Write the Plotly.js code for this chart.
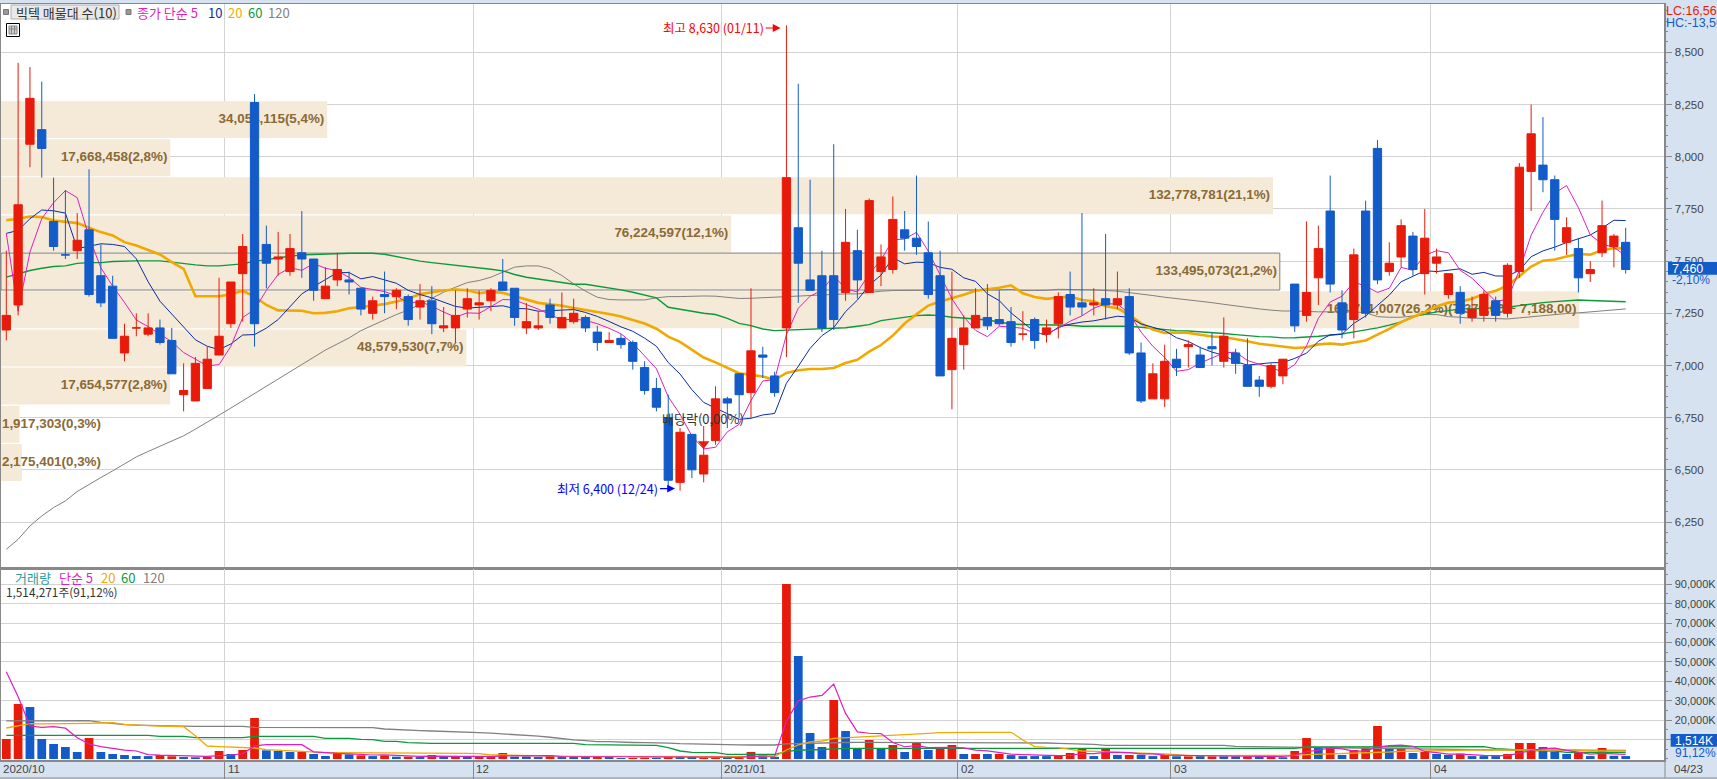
<!DOCTYPE html>
<html><head><meta charset="utf-8">
<script src="https://cdn.plot.ly/plotly-3.0.1.min.js"></script>
<style>html,body{margin:0;padding:0;background:#fff}#c{width:1717px;height:779px}</style>
</head><body><div id="c"></div>
<script>
const open_=[7170,7290,8060,8130,7690,7530,7550,7650,7430,7380,
7060,7180,7150,7180,7120,6860,6830,6890,7050,7200,
7440,8260,7580,7510,7450,7540,7510,7320,7410,7410,
7370,7250,7340,7330,7330,7280,7310,7180,7180,7270,
7290,7310,7400,7370,7180,7180,7290,7180,7210,7230,
7160,7110,7130,7110,6990,6890,6750,6440,6670,6480,
6640,6840,6960,6870,7050,6950,7180,7660,7410,7430,
7430,7350,7550,7350,7450,7460,7650,7610,7540,7430,
6980,7100,7180,7230,7220,7210,7150,7220,7150,7200,
7340,7300,7290,7320,7290,7330,7060,6840,6840,7030,
7090,7050,7090,7020,7060,7000,6930,6900,6950,7390,
7240,7420,7740,7300,7220,7740,8040,7450,7520,7620,
7440,7490,7340,7350,7230,7240,7310,7250,7450,7930,
7960,7890,7590,7560,7440,7540,7570,7590];
const high_=[7550,8450,8430,8360,7900,7840,7730,7940,7580,7430,
7200,7250,7250,7220,7180,7010,7040,7090,7420,7400,
7630,8300,7670,7640,7630,7740,7510,7470,7540,7450,
7370,7330,7450,7370,7340,7390,7380,7280,7360,7370,
7360,7370,7510,7370,7300,7260,7320,7350,7320,7240,
7190,7160,7150,7120,7020,6940,6860,6700,6670,6710,
6900,6850,6960,7370,7090,6970,8630,8350,7890,7550,
8060,7750,7650,7800,7580,7810,7740,7910,7690,7550,
7450,7240,7370,7390,7360,7280,7260,7230,7220,7350,
7450,7730,7370,7630,7450,7370,7110,7010,7100,7080,
7120,7090,7160,7230,7080,7130,6950,7010,7030,7390,
7690,7670,7910,7360,7560,7790,8080,7590,7700,7640,
7750,7560,7440,7380,7330,7360,7330,7490,7970,8250,
8190,7910,7710,7610,7500,7790,7630,7660];
const low_=[7120,7240,7950,7900,7550,7510,7510,7330,7280,7130,
7020,7140,7140,7100,6960,6780,6830,6890,7050,7180,
7210,7090,7370,7430,7430,7420,7310,7320,7380,7340,
7240,7220,7250,7270,7190,7220,7150,7160,7110,7230,
7220,7260,7360,7190,7150,7170,7200,7180,7200,7160,
7070,7110,7080,6980,6860,6780,6420,6400,6460,6440,
6620,6700,6750,6750,6940,6850,7040,7300,7360,7160,
7170,7310,7320,7350,7380,7440,7550,7530,7320,6950,
6790,6980,7180,7170,7190,7090,7120,7080,7110,7130,
7240,7240,7240,7220,7270,7050,6820,6840,6800,6950,
6990,6990,7000,6990,6960,6900,6850,6890,6910,7160,
7210,7290,7350,7130,7130,7230,7390,7430,7470,7430,
7340,7440,7320,7200,7210,7210,7210,7230,7420,7740,
7830,7550,7530,7350,7400,7520,7470,7440];
const close_=[7240,7770,8280,8040,7570,7530,7600,7340,7300,7130,
7140,7180,7180,7110,6960,6880,7010,7030,7140,7400,
7570,7200,7490,7520,7560,7510,7360,7380,7460,7400,
7270,7310,7330,7360,7220,7310,7200,7190,7240,7320,
7300,7360,7360,7230,7210,7190,7230,7230,7250,7180,
7110,7120,7100,7020,6880,6800,6450,6680,6500,6570,
6840,6820,6860,7070,7040,6870,7900,7490,7360,7180,
7220,7590,7410,7790,7520,7700,7610,7570,7340,6950,
7130,7180,7240,7190,7200,7110,7150,7120,7180,7330,
7280,7280,7300,7290,7320,7060,6830,6960,7020,6990,
7100,6990,7080,7140,7010,6900,6900,7000,7030,7190,
7350,7560,7390,7170,7530,7250,7410,7490,7670,7460,
7610,7520,7440,7250,7270,7340,7240,7480,7950,8110,
7890,7700,7660,7420,7460,7670,7620,7460];
const ma5=[7633,7260,7543,7704,7780,7838,7804,7616,7468,7380,
7302,7218,7186,7148,7114,7062,7028,6998,7004,7092,
7230,7268,7360,7436,7468,7456,7488,7466,7454,7422,
7374,7364,7354,7334,7298,7306,7284,7256,7232,7252,
7250,7282,7316,7314,7292,7270,7244,7218,7222,7216,
7200,7178,7152,7106,7046,6984,6850,6766,6662,6600,
6608,6682,6718,6832,6926,6932,7148,7274,7332,7360,
7430,7368,7352,7438,7506,7602,7606,7638,7548,7434,
7320,7234,7168,7138,7188,7184,7178,7154,7152,7178,
7212,7238,7274,7296,7294,7250,7160,7092,7038,6972,
6980,7012,7036,7060,7064,7024,7006,6990,6968,7004,
7094,7226,7304,7332,7400,7380,7350,7370,7470,7456,
7528,7550,7540,7456,7418,7364,7308,7316,7456,7624,
7734,7826,7862,7756,7626,7582,7566,7526];
const ma10=[7633,7647,7703,7745,7741,7730,7560,7570,7583,7580,
7570,7511,7401,7308,7247,7182,7123,7092,7076,7103,
7146,7148,7179,7220,7280,7343,7378,7413,7445,7445,
7415,7426,7410,7394,7360,7340,7324,7305,7283,7275,
7278,7283,7286,7273,7272,7260,7263,7267,7268,7254,
7235,7211,7185,7164,7131,7092,7014,6959,6884,6823,
6796,6766,6742,6747,6763,6770,6915,6996,7082,7143,
7181,7258,7313,7385,7433,7516,7487,7495,7493,7470,
7461,7420,7403,7343,7311,7252,7206,7161,7145,7183,
7198,7208,7214,7224,7236,7231,7199,7183,7167,7133,
7115,7086,7064,7049,7018,7002,7009,7013,7014,7034,
7059,7116,7147,7150,7202,7237,7288,7337,7401,7428,
7454,7450,7455,7463,7437,7446,7429,7428,7456,7521,
7549,7567,7589,7606,7625,7658,7696,7694];
const ma20=[7696,7703,7714,7711,7695,7687,7682,7660,7639,7623,
7591,7575,7554,7532,7495,7463,7332,7332,7332,7341,
7358,7330,7290,7264,7264,7262,7250,7252,7260,7274,
7280,7287,7294,7307,7320,7342,7351,7359,7364,7360,
7346,7354,7348,7333,7316,7300,7293,7286,7275,7264,
7256,7247,7235,7218,7201,7176,7138,7113,7076,7038,
7015,6988,6963,6955,6947,6931,6964,6977,6983,6983,
6988,7012,7027,7066,7098,7143,7201,7245,7287,7306,
7321,7339,7358,7364,7372,7384,7346,7328,7319,7326,
7330,7314,7308,7284,7274,7242,7202,7172,7156,7158,
7156,7147,7139,7136,7127,7116,7104,7098,7090,7084,
7087,7101,7105,7100,7110,7120,7148,7175,7208,7231,
7256,7283,7301,7306,7320,7342,7358,7382,7428,7474,
7502,7508,7522,7534,7531,7552,7562,7561];
const ma60=[7423,7439,7455,7466,7474,7477,7489,7493,7493,7498,
7501,7501,7501,7501,7495,7487,7482,7477,7477,7482,
7487,7500,7506,7516,7522,7530,7532,7535,7535,7538,
7538,7538,7533,7521,7511,7500,7493,7487,7479,7474,
7468,7461,7453,7436,7423,7415,7404,7397,7389,7389,
7381,7370,7362,7351,7338,7324,7279,7271,7260,7250,
7244,7226,7202,7191,7175,7167,7169,7172,7173,7175,
7177,7181,7188,7196,7215,7223,7234,7239,7242,7239,
7231,7228,7223,7218,7207,7199,7196,7196,7193,7193,
7193,7188,7188,7188,7188,7188,7183,7177,7172,7167,
7165,7162,7157,7153,7148,7143,7138,7137,7132,7133,
7135,7140,7145,7151,7161,7170,7180,7193,7209,7234,
7247,7257,7263,7271,7271,7273,7276,7279,7287,7295,
7301,7306,7311,7314,7311,7308,7306,7305];
const ma120=[6119,6167,6231,6279,6319,6351,6396,6431,6463,6495,
6530,6562,6588,6612,6639,6663,6695,6727,6762,6796,
6831,6866,6900,6938,6972,7007,7039,7074,7103,7132,
7167,7194,7218,7244,7266,7292,7322,7351,7375,7397,
7407,7423,7447,7471,7477,7477,7463,7431,7391,7356,
7327,7316,7314,7314,7314,7324,7330,7330,7333,7333,
7332,7327,7321,7322,7325,7327,7329,7332,7335,7340,
7343,7343,7343,7351,7356,7359,7359,7359,7359,7359,
7359,7359,7361,7362,7362,7364,7359,7359,7360,7365,
7365,7365,7362,7359,7356,7349,7343,7335,7327,7321,
7314,7308,7301,7293,7285,7279,7271,7265,7261,7261,
7258,7257,7257,7257,7257,7253,7234,7231,7231,7237,
7244,7244,7234,7231,7226,7226,7223,7223,7228,7234,
7239,7244,7249,7252,7257,7260,7266,7271];
const volume=[10300,28350,26800,10300,7730,6180,3600,10800,3600,2580,
2060,1550,1500,2060,1400,1000,900,1200,4120,2580,
4640,21130,4470,4120,3600,3600,2580,1550,2920,2400,
1890,1500,1890,1200,1200,1000,2060,1200,1200,1100,
1200,1400,3090,1200,1300,1000,1890,1000,1000,1000,
1100,1000,500,600,700,700,1200,1000,1000,700,
800,700,800,3600,1800,1100,90200,53100,13400,6180,
30400,14430,5500,9790,5500,7200,3600,8400,4640,6000,
7200,2580,2580,2580,2580,2000,1500,1500,1500,2060,
3090,5500,1500,5150,2060,2060,2200,1500,2060,1400,
1400,1500,1400,1400,1400,1400,1400,1400,900,4120,
10800,5800,6180,2060,4640,5800,17000,5670,5670,3090,
3600,2580,2060,2750,1500,1500,1500,2580,8250,8250,
6180,3780,2580,3260,1500,5670,1662,1514];
const volumeUp=[1,1,0,0,0,0,0,1,0,0,
0,0,0,1,1,0,0,1,1,0,
1,1,0,0,0,1,0,0,1,0,
1,0,1,0,1,0,1,0,1,0,
1,1,1,0,0,0,1,0,0,0,
1,0,0,1,1,0,1,0,0,1,
1,0,1,1,0,0,1,0,0,0,
1,0,0,1,0,1,0,1,0,1,
1,0,1,0,1,0,0,0,0,1,
1,1,0,1,0,1,0,0,1,0,
1,0,1,0,0,1,0,1,0,1,
1,0,1,0,1,1,1,0,1,0,
1,0,0,1,0,0,0,1,1,1,
0,0,0,1,0,1,0,0];
const vma5=[45000,32100,17000,16300,16696,15872,10922,7722,6382,5352,
4528,4118,2258,1950,1714,1502,1372,1312,1724,1960,
2688,6734,7388,7388,7592,7384,3674,3090,2850,2610,
2268,2052,2120,1776,1536,1358,1470,1332,1332,1312,
1352,1220,1598,1598,1638,1598,1696,1278,1238,1178,
1198,1020,920,840,780,700,740,840,920,920,
940,840,800,1320,1540,1600,19500,29960,31920,32796,
38656,23502,13982,13260,13124,8484,6318,6898,5868,5968,
5968,5764,4600,4188,3504,2464,2248,2032,1816,1712,
1930,2730,2730,3460,3460,3254,2594,2594,1976,1844,
1712,1572,1552,1420,1420,1420,1400,1400,1300,1844,
3724,4604,5660,5248,4016,4016,6180,6902,7108,6566,
3886,3268,2546,2478,2058,1842,1730,1696,3046,4396,
5332,5572,4438,3440,2504,2882,2698,2349];
const vma20=[15970,17200,18200,18100,18100,18100,18400,18400,18550,18730,
17870,17350,17180,17010,16840,16660,12030,6700,6360,6180,
6010,5670,4810,4470,4300,4120,3780,3260,3260,3260,
3260,3260,3260,3260,3260,3260,3260,3260,3260,2920,
2750,2060,2060,1890,1890,1720,1370,1370,1370,1370,
1370,1300,1300,1300,1300,1250,1250,1250,1250,1200,
1200,1200,1200,1200,1200,1200,4640,7220,8760,9280,
10650,11000,11510,11680,12030,12370,12540,12880,13230,13570,
13740,13740,13740,13740,13740,13740,9790,6360,6010,5840,
4980,4120,3950,3780,3440,3090,2920,2750,2580,2230,
1720,1720,1720,1720,1720,1720,1720,1720,1720,1890,
2230,2410,2410,2580,2750,2920,3260,3610,3950,4120,
4300,4470,4640,4640,4640,4640,4640,4640,4640,4640,
4980,4640,4640,4640,4120,4120,4120,4120];
const vma60=[12200,12200,12200,12200,12200,12200,12200,12200,12200,12200,
12200,12200,12200,11680,11680,11680,11000,11000,11000,11000,
11000,11680,11680,11680,11680,11680,11680,10650,10650,10650,
10140,9960,9100,9100,8420,8070,8070,8070,8070,8070,
8070,8070,8070,8070,8070,8070,8070,8070,8070,7390,
7390,7210,7040,7040,7040,7040,5840,4120,3440,3440,
3260,2410,2410,2410,2410,2410,3800,4640,4640,4980,
5150,5500,5500,5500,5500,5500,5500,5500,5500,5500,
5500,5500,5500,5500,5500,5500,5500,5500,5500,5500,
5500,5500,5500,5500,5500,5500,5500,5500,5500,5500,
5500,5500,5500,5500,5500,5500,5500,5500,5500,5500,
6180,6180,6180,6180,6180,6180,6180,6180,6180,6180,
6180,6180,6180,6180,6180,6360,5300,4800,4630,4300,
4120,4120,3440,3440,3440,3440,3440,3440];
const vma120=[19590,19590,19590,19590,19590,19590,19590,19760,18900,18300,
17700,17500,17350,17350,16840,16840,16840,16840,16840,16840,
16840,16320,16320,16320,16320,16320,16320,16320,16150,16150,
16150,16150,15460,15100,14900,14600,14430,14300,14100,13800,
13600,13300,13000,12700,12300,11800,11200,10400,9900,9500,
9000,8900,8600,8500,8420,8420,8200,7900,7700,7600,
7500,7400,7300,7220,7220,7220,7800,8000,8200,8300,
8400,8500,8590,8590,8590,8590,8590,8500,8500,8500,
8400,8400,8400,8400,8400,8250,8250,8250,8250,8100,
8000,7900,7500,7040,7040,7040,7040,7040,7040,7040,
7040,7040,7040,7040,6530,6500,6400,6300,6200,6100,
6000,5900,5800,5700,5650,5600,5550,5500,5500,5300,
5150,4900,4810,4800,4780,4760,4740,4720,4700,4680,
4660,4640,4600,4580,4550,4520,4500,4470];
const bandVolumeM=[34.054115,17.668458,132.778781,76.224597,133.495073,164.761007,48.57953,17.654577,1.917303,2.175401];
const bandPrice=[8178,7995,7813,7630,7450,7267,7084,6902,6718,6535];
const bandSpan=177;
const bandText=["34,054,115(5,4%)","17,668,458(2,8%)","132,778,781(21,1%)","76,224,597(12,1%)","133,495,073(21,2%)",
"164,761,007(26,2%)(7,370,00 ~ 7,188,00)","48,579,530(7,7%)","17,654,577(2,8%)","1,917,303(0,3%)","2,175,401(0,3%)"];
const priceTicks=[6250,6500,6750,7000,7250,7500,7750,8000,8250,8500];
const volumeTicks=[10000,20000,30000,40000,50000,60000,70000,80000,90000];
const volumeTickText=["10,000K","20,000K","30,000K","40,000K","50,000K","60,000K","70,000K","80,000K","90,000K"];
const monthIdx=[18.5,39.5,60.5,80.5,98.5,120.5];
const monthText=["11","12","2021/01","02","03","04"];

const idx=open_.map((_,i)=>i);
const RED='#e81b0a',BLUE='#125bc9',MAG='#e01fc0',NAVY='#0a2ca6',ORG='#f0a900',GRN='#0b9a3a',GRY='#808080',
 BAND='#f5e9d8',BROWN='#8a6a35',GRID='#d3d3d3',AX='#888888',TXT='#444444';
const X=p=>(p-1)/1663, Y=p=>(760-p)/756;
const irange=[-0.448,140.24];
const line=(y,c,w,xa,ya,name)=>({type:'scatter',mode:'lines',x:idx,y:y,name:name,xaxis:xa,yaxis:ya,
  line:{color:c,width:w,shape:'linear'},hoverinfo:'skip',showlegend:false,connectgaps:true});

const traces=[
 {type:'bar',orientation:'h',x:bandVolumeM,y:bandPrice,width:bandSpan,xaxis:'x',yaxis:'y',showlegend:false,hoverinfo:'skip',
  marker:{color:BAND,line:{color:bandText.map((_,i)=>i==4?'#808080':BAND),width:bandText.map((_,i)=>i==4?1:0)}}},
 {type:'scatter',mode:'text',xaxis:'x',yaxis:'y',showlegend:false,hoverinfo:'skip',
  x:bandVolumeM.map(v=>v>5?v-0.3:0.1),y:bandPrice,text:bandText,
  textposition:bandVolumeM.map(v=>v>5?'middle left':'middle right'),
  textfont:{family:'Liberation Sans',size:13.4,color:BROWN,weight:700}},
 line(ma120,GRY,1,'x3','y','120'),
 line(ma60,GRN,1.4,'x3','y','60'),
 line(ma20,ORG,2.6,'x3','y','20'),
 line(ma10,NAVY,1,'x3','y','10'),
 line(ma5,MAG,1,'x3','y','5'),
 {type:'candlestick',x:idx,open:open_,high:high_,low:low_,close:close_,xaxis:'x4',yaxis:'y',showlegend:false,hoverinfo:'skip',
  whiskerwidth:0,increasing:{line:{color:RED,width:1},fillcolor:RED},decreasing:{line:{color:BLUE,width:1},fillcolor:BLUE}},
 {type:'scatter',mode:'markers',x:[59],y:[6625],xaxis:'x4',yaxis:'y',showlegend:false,hoverinfo:'skip',
  marker:{symbol:'triangle-down',size:10,color:RED}},
 {type:'bar',x:idx,y:volume,xaxis:'x2',yaxis:'y2',width:0.74,showlegend:false,hoverinfo:'skip',
  marker:{color:volumeUp.map(u=>u?RED:BLUE)}},
 line(vma120,GRY,1.3,'x2','y2','120'),
 line(vma60,GRN,1.3,'x2','y2','60'),
 line(vma20,ORG,1.3,'x2','y2','20'),
 line(vma5,MAG,1.2,'x2','y2','5'),
];

const note=(text,x,y,color,size,anchor,extra)=>Object.assign({text:text,x:X(x-2),y:Y(y),xref:'paper',yref:'paper',showarrow:false,
  xanchor:anchor||'left',yanchor:'middle',font:{family:'"Noto Sans CJK KR","Liberation Sans"',size:size||12,color:color||TXT}},extra||{});
const rs=(x0,y0,x1,y1,fill,lc,w)=>({type:'rect',xref:'paper',yref:'paper',x0:X(x0),x1:X(x1),y0:Y(y0),y1:Y(y1),
  fillcolor:fill||'rgba(0,0,0,0)',line:{color:lc||fill,width:w==null?1:w},layer:'above'});
const ls=(x0,y0,x1,y1,c,w)=>({type:'line',xref:'paper',yref:'paper',x0:X(x0),x1:X(x1),y0:Y(y0),y1:Y(y1),line:{color:c,width:w||1},layer:'above'});
const NUM='Liberation Sans';
const anns=[
 note('빅텍 매물대 수(10)',15.5,12.4,'#333',13),
 note('종가 단순 5',137,12.4,MAG,13),
 note('10',208,12.4,NAVY,13), note('20',228,12.4,ORG,13), note('60',248,12.4,GRN,13), note('120',268,12.4,GRY,13),
 note('거래량',15,577,'#2a9d9d',13), note('단순 5',59,577,MAG,13),
 note('20',101,577,ORG,13), note('60',121,577,GRN,13), note('120',143,577,GRY,13),
 note('1,514,271주(91,12%)',6,591,'#333',11.8),
 note('LC:16,56',1666,11,'#e81b0a',12.5,'left',{font:{family:NUM,size:12.5,color:'#e81b0a'}}),
 note('HC:-13,56',1666,23,'#125bc9',12.5,'left',{font:{family:NUM,size:12.5,color:'#125bc9'}}),
 note('7,460',1672,268.5,'#fff',12.5,'left',{font:{family:NUM,size:12.5,color:'#fff'}}),
 note('-2,10%',1672,280,BLUE,12,'left',{font:{family:NUM,size:12,color:BLUE}}),
 note('1,514K',1675,740.5,'#fff',12,'left',{font:{family:NUM,size:12,color:'#fff'}}),
 note('91,12%',1675,753,BLUE,12,'left',{font:{family:NUM,size:12,color:BLUE}}),
 note('2020/10',3,769,TXT,11.5,'left',{font:{family:NUM,size:11.5,color:TXT}}),
 note('04/23',1674,769,TXT,11.5,'left',{font:{family:NUM,size:11.5,color:TXT}}),
 {text:'최고 8,630 (01/11)',x:65.5,y:8617,xref:'x3',yref:'y',showarrow:true,ax:-15,ay:0,axref:'pixel',ayref:'pixel',xanchor:'right',yanchor:'middle',
  arrowcolor:'#ff0000',arrowhead:2,arrowwidth:1.2,arrowsize:1.3,font:{family:'"Noto Sans CJK KR"',size:12.5,color:'#ff0000'}},
 {text:'최저 6,400 (12/24)',x:56.57,y:6410,xref:'x3',yref:'y',showarrow:true,ax:-15,ay:0,axref:'pixel',ayref:'pixel',xanchor:'right',yanchor:'middle',
  arrowcolor:'#0000ff',arrowhead:2,arrowwidth:1.2,arrowsize:1.3,font:{family:'"Noto Sans CJK KR"',size:12.5,color:'#0000ff'}},
 {text:'배당락(0,00%)',x:58.98,y:6745,xref:'x3',yref:'y',showarrow:false,xanchor:'center',yanchor:'middle',font:{family:'"Noto Sans CJK KR"',size:13,color:'#333'}},
].concat(monthIdx.map((m,i)=>({text:monthText[i],x:m,xref:'x2',y:Y(769),yref:'paper',showarrow:false,xanchor:'left',xshift:1,yanchor:'middle',
   font:{family:NUM,size:11.5,color:TXT}})));
const shapes=[
 rs(3.5,9.5,8.5,14.5,'#999999','#777777',1),
 rs(11,5,119,19,'#e9e9e9','#b0b0b0',1),
 rs(126,9.5,131,14.5,'#999999','#777777',1),
 rs(6.5,23.5,19.5,36.5,'#ffffff','#000000',1),
 rs(9,26,17,34,'#cccccc','#888888',1),
 ls(11.5,26,11.5,34,'#888888',1), ls(14.5,26,14.5,34,'#888888',1), ls(9,29,17,29,'#888888',1),
 rs(1668,262,1717,274.7,BLUE,BLUE,0),
 rs(1670.7,734,1717,746.7,BLUE,BLUE,0),
 ls(0,778,1717,778,'#888888',1.2),
 ls(1665,760,1665,778,'#888888',1),
];
const hidden={showgrid:false,zeroline:false,showticklabels:false,ticks:'',fixedrange:true};
const layout={
 width:1717,height:779,autosize:false,showlegend:false,barmode:'overlay',boxmode:'overlay',boxgap:0.3,boxgroupgap:0,
 margin:{l:1,r:53,t:4,b:19,pad:0},paper_bgcolor:'#d6e2f0',plot_bgcolor:'#ffffff',
 xaxis:Object.assign({},hidden,{domain:[0,1],range:[0,173.6],anchor:'y',showline:true,mirror:true,linecolor:AX,linewidth:1.5}),
 xaxis3:Object.assign({},hidden,{overlaying:'x',range:irange,anchor:'y',showgrid:true,gridcolor:GRID,gridwidth:1,tickmode:'array',tickvals:monthIdx,rangeslider:{visible:false}}),
 xaxis4:Object.assign({},hidden,{overlaying:'x',range:irange,anchor:'y',rangeslider:{visible:false}}),
 xaxis2:Object.assign({},hidden,{domain:[0,1],range:irange,anchor:'y2',showgrid:true,gridcolor:GRID,gridwidth:1,tickmode:'array',tickvals:monthIdx,
   ticks:'outside',ticklen:18,tickcolor:'#888888',showline:true,linecolor:AX,linewidth:1.5,mirror:true}),
 yaxis:{domain:[0.2527,1],range:[6025,8732],side:'right',anchor:'x',tickmode:'array',tickvals:priceTicks,tickformat:',d',showgrid:true,gridcolor:GRID,gridwidth:1,
   zeroline:false,showline:true,mirror:true,linecolor:AX,linewidth:1.5,ticks:'outside',ticklen:6,tickcolor:AX,ticklabelstandoff:1,
   tickfont:{family:NUM,size:11.5,color:TXT},minor:{tickmode:'linear',tick0:0,dtick:50,ticks:'outside',ticklen:2.5,tickcolor:AX,showgrid:false},fixedrange:true},
 yaxis2:{domain:[0,0.2527],range:[-515,97900],side:'right',anchor:'x2',tickmode:'array',tickvals:volumeTicks,ticktext:volumeTickText,showgrid:true,gridcolor:GRID,gridwidth:1,
   zeroline:false,showline:true,mirror:true,linecolor:AX,linewidth:1.5,ticks:'outside',ticklen:6,tickcolor:AX,ticklabelstandoff:1,
   tickfont:{family:NUM,size:11,color:TXT},minor:{tickmode:'linear',tick0:0,dtick:5000,ticks:'outside',ticklen:2.5,tickcolor:AX,showgrid:false},fixedrange:true},
 annotations:anns,shapes:shapes,
 font:{family:NUM}
};
Plotly.newPlot('c',traces,layout,{displayModeBar:false,staticPlot:true});
</script></body></html>
